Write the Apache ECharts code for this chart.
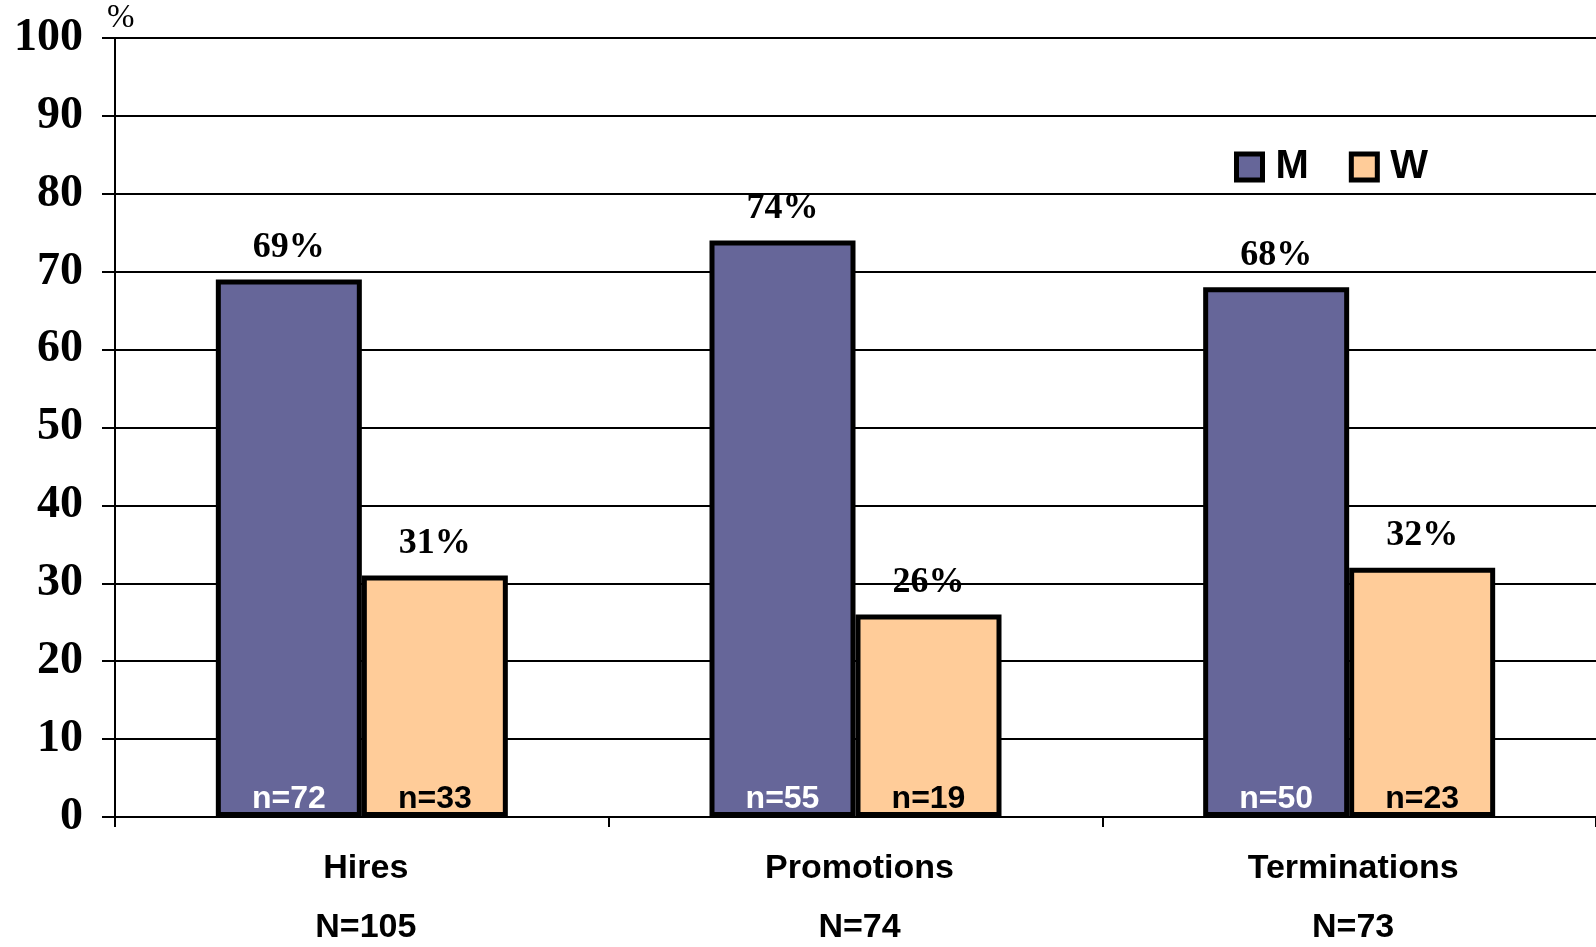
<!DOCTYPE html>
<html><head><meta charset="utf-8">
<script src="https://cdn.jsdelivr.net/npm/echarts@6/dist/echarts.min.js"></script>
<style>html,body{margin:0;padding:0;background:#fff}#c{width:1596px;height:947px}</style>
</head><body><div id="c"></div>
<script>
const categories = ['Hires', 'Promotions', 'Terminations'];
const totals = ['N=105', 'N=74', 'N=73'];
const mValues = [69, 74, 68];
const wValues = [31, 26, 32];
const mCounts = ['n=72', 'n=55', 'n=50'];
const wCounts = ['n=33', 'n=19', 'n=23'];
const yTicks = [0, 10, 20, 30, 40, 50, 60, 70, 80, 90, 100];

const serif = '"Liberation Serif", "Times New Roman", serif';
const sans = '"Liberation Sans", Arial, sans-serif';

function barSeries(name, values, counts, color, countColor) {
  return [{
    name: name + '_n', type: 'bar', stack: name, data: values.map(() => 0), barWidth: 146, barGap: '0%',
    itemStyle: { color: 'transparent', borderWidth: 0 }, silent: true,
    label: { show: true, position: 'insideBottom', distance: 2,
      formatter: p => counts[p.dataIndex],
      fontFamily: sans, fontWeight: 'bold', fontSize: 32, color: countColor },
    z: 4
  }, {
    name: name, type: 'bar', stack: name, data: values, barWidth: 146, barGap: '0%',
    itemStyle: { color: color, borderColor: '#000', borderWidth: 5 },
    label: { show: true, position: 'top', distance: 14, formatter: p => p.value + '%',
      fontFamily: serif, fontWeight: 'bold', fontSize: 36, color: '#000' },
    z: 3
  }];
}

const chart = echarts.init(document.getElementById('c'), null, { renderer: 'canvas' });
chart.setOption({
  animation: false,
  backgroundColor: '#fff',
  grid: { left: 115, right: 0, top: 38, bottom: 130, containLabel: false },
  legend: {
    data: ['M', 'W'], left: 1229, top: 142, itemWidth: 26, itemHeight: 26, itemGap: 40,
    icon: 'rect',
    itemStyle: { borderColor: '#000', borderWidth: 5 },
    textStyle: { fontFamily: sans, fontWeight: 'bold', fontSize: 40, color: '#000', padding: [0, 0, 0, 8] }
  },
  xAxis: {
    type: 'category', data: categories,
    axisLine: { show: true, lineStyle: { color: '#000', width: 2 } },
    axisTick: { show: true, length: 10, lineStyle: { color: '#000', width: 2 } },
    axisLabel: {
      margin: 22,
      formatter: (v, i) => '{a|' + v + '}\n{a|' + totals[i] + '}',
      rich: { a: { fontFamily: sans, fontWeight: 'bold', fontSize: 34, color: '#000', lineHeight: 59, padding: [0, 0, 0, 8] } }
    },
    splitLine: { show: false }
  },
  yAxis: {
    type: 'value', min: 0, max: 100, interval: 10,
    name: '%', nameLocation: 'end', nameGap: 3,
    nameTextStyle: { fontFamily: serif, fontSize: 33, color: '#000', align: 'left', padding: [0, 0, 0, -8] },
    axisLine: { show: true, lineStyle: { color: '#000', width: 2 } },
    axisTick: { show: true, length: 13, lineStyle: { color: '#000', width: 2 } },
    axisLabel: { margin: 32, fontFamily: serif, fontWeight: 'bold', fontSize: 46, color: '#000',
      formatter: v => yTicks.includes(v) ? String(v) : '' },
    splitLine: { show: true, lineStyle: { color: '#000', width: 2 } }
  },
  series: [].concat(
    barSeries('M', mValues, mCounts, '#666699', '#fff'),
    barSeries('W', wValues, wCounts, '#FFCC99', '#000')
  )
});
</script></body></html>
